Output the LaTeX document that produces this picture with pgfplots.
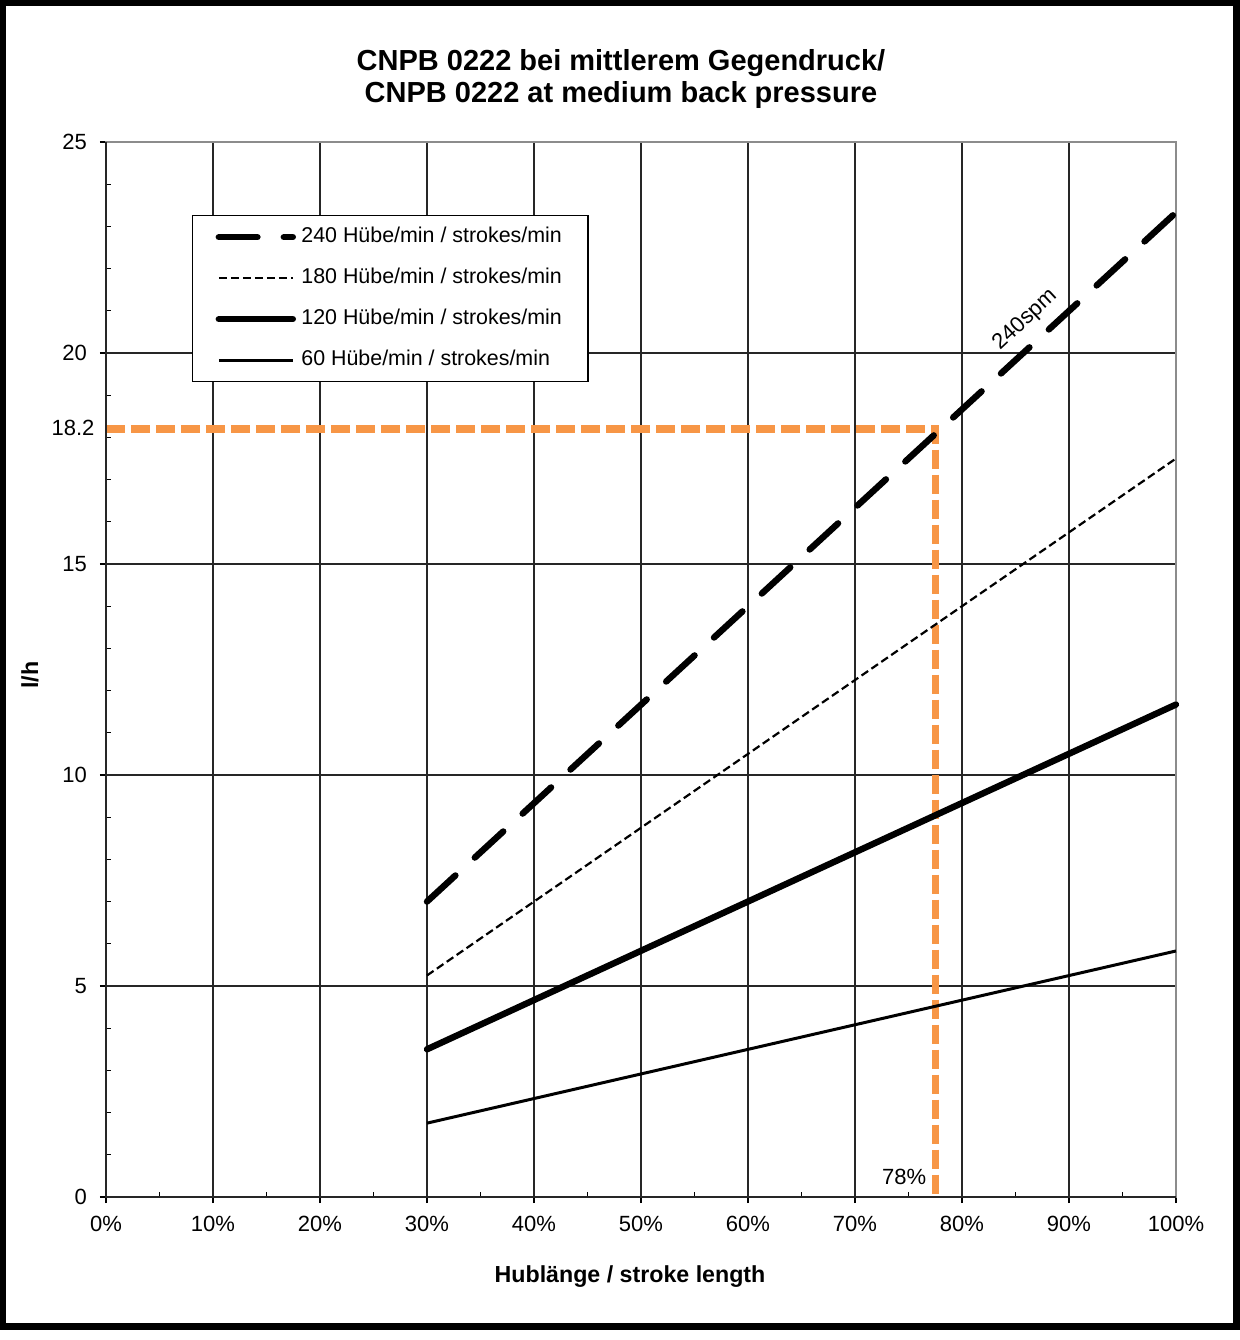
\documentclass[border=0pt]{standalone}
\usepackage{pgfplots}
\pgfplotsset{compat=1.18}
\usepackage{fontspec}
\setmainfont{Liberation Sans}
\definecolor{orangeX}{RGB}{247,150,70}
\begin{document}
\begin{tikzpicture}
\useasboundingbox (-53pt,-71.5pt) rectangle (567pt,598.5pt);
\begin{axis}[
  at={(0pt,0pt)}, anchor=south west,
  scale only axis, width=535pt, height=527.5pt,
  xmin=0, xmax=100, ymin=0, ymax=25,
  xtick={0,10,...,100},
  xticklabels={0\%,10\%,20\%,30\%,40\%,50\%,60\%,70\%,80\%,90\%,100\%},
  ytick={0,5,...,25},
  yticklabels={0,5,10,15,20,25},
  tick pos=left,
  tick align=outside,
  major tick length=3pt,
  tick style={black, line width=0.6pt},
  grid=major,
  major grid style={black!85, line width=0.6pt},
  extra x ticks={5,15,...,95}, extra x tick labels={},
  extra x tick style={grid=none, tick align=inside, major tick length=2.5pt},
  extra y ticks={1,2,3,4,6,7,8,9,11,12,13,14,16,17,18,19,21,22,23,24}, extra y tick labels={},
  extra y tick style={grid=none, tick align=inside, major tick length=2.5pt},
  axis line style={draw=black!45, line width=1.4pt},
  ticklabel style={font=\fontsize{11}{13}\selectfont},
  xticklabel style={yshift=-3pt},
  yticklabel style={xshift=-3pt},
  clip=false,
  legend cell align=left,
  legend image code/.code={\draw[#1] (0pt,0pt) -- (37pt,0pt);},
  legend style={at={(0.0804,0.9308)}, anchor=north west,
    draw=black, line width=0.6pt, fill=white,
    font=\fontsize{10.7}{12}\selectfont,
    inner xsep=11.5pt, inner ysep=4.3pt, row sep=7.6pt,
    nodes={inner sep=1.5pt, text height=7.7pt, text depth=2.2pt},
    /tikz/every odd column/.append style={column sep=1.2pt}},
]
\addplot[orangeX, line width=3.6pt, dash pattern=on 9.5pt off 3pt, forget plot] coordinates {(0,18.2) (77.5,18.2) (77.5,0)};
\addplot[black, line width=3.2pt, line cap=round, dash pattern=on 19.3pt off 13.2pt] coordinates {(30,7.0) (100,23.33)};
\addlegendentry{240 Hübe/min / strokes/min}
\addplot[black, line width=1.1pt, dash pattern=on 4pt off 2pt] coordinates {(30,5.25) (100,17.5)};
\addlegendentry{180 Hübe/min / strokes/min}
\addplot[black, line width=3.2pt, line cap=round] coordinates {(30,3.5) (100,11.67)};
\addlegendentry{120 Hübe/min / strokes/min}
\addplot[black, line width=1.5pt] coordinates {(30,1.75) (100,5.83)};
\addlegendentry{60 Hübe/min / strokes/min}
\node[rotate=43, font=\fontsize{11}{13}\selectfont] at (axis cs:85.9,20.78) {240spm};
\node[font=\fontsize{11}{13}\selectfont] at (axis cs:74.6,0.47) {78\%};
\node[font=\fontsize{11}{13}\selectfont, xshift=-16.5pt] at (axis cs:0,18.22) {18.2};
\end{axis}
\draw[black!85, line width=1pt] (0pt,527.5pt) -- (0pt,0pt) -- (535pt,0pt);
\node[anchor=base, font=\bfseries\fontsize{14.5}{17}\selectfont] at (257.5pt,563pt) {CNPB 0222 bei mittlerem Gegendruck/};
\node[anchor=base, font=\bfseries\fontsize{14.5}{17}\selectfont] at (257.5pt,547pt) {CNPB 0222 at medium back pressure};
\node[anchor=base, font=\bfseries\fontsize{11.6}{14}\selectfont] at (262pt,-42.5pt) {Hublänge / stroke length};
\node[rotate=90, font=\bfseries\fontsize{11.6}{14}\selectfont] at (-38pt,261pt) {l/h};
\draw[black, line width=3.3pt] (-51.5pt,-64.75pt) rectangle (565.25pt,597.25pt);
\end{tikzpicture}
\end{document}
